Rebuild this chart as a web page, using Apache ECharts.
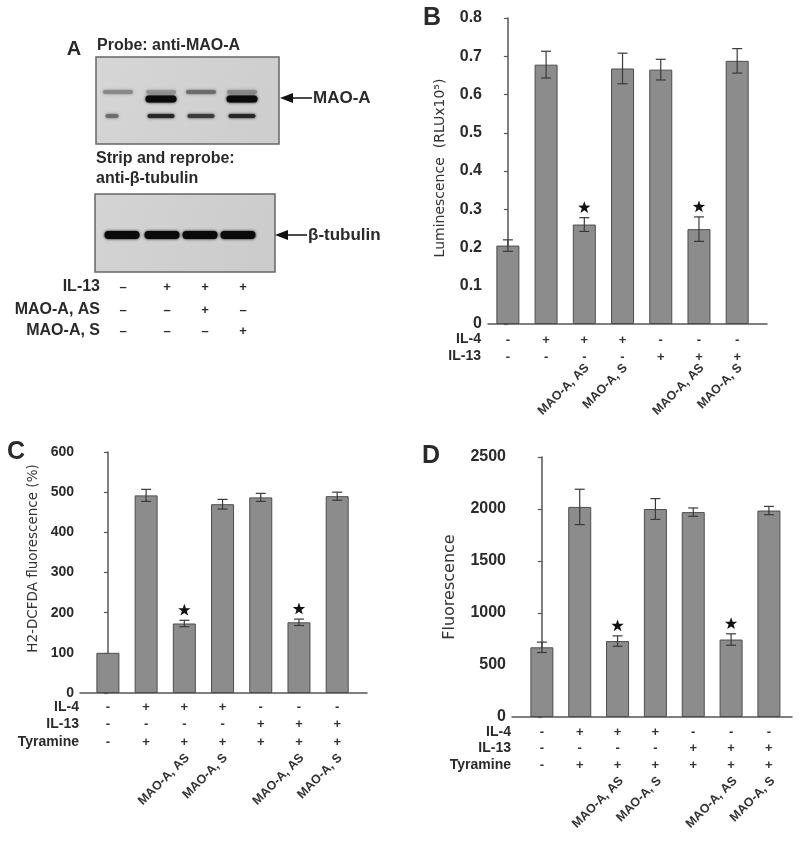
<!DOCTYPE html>
<html><head><meta charset="utf-8">
<script src="https://cdn.jsdelivr.net/npm/echarts@6/dist/echarts.min.js"></script>
<style>html,body{margin:0;padding:0;background:#fff}#c{width:800px;height:842px}</style>
</head><body><div id="c"></div>
<script>
// ---------- data ----------
const groups = [0, 1, 2, 3, 4, 5, 6];
const lumValues = [0.205, 0.678, 0.26, 0.668, 0.665, 0.248, 0.688];
const lumErrors = [0.015, 0.035, 0.018, 0.04, 0.027, 0.032, 0.032];
const dcfValues = [100, 492, 173, 470, 487, 176, 490];
const dcfErrors = [0, 15, 8, 12, 10, 8, 10];
const fluValues = [670, 2020, 730, 2000, 1970, 745, 1985];
const fluErrors = [50, 170, 50, 100, 40, 55, 40];
const starred = [0, 0, 1, 0, 0, 1, 0];
const il4Row = ['-', '+', '+', '+', '-', '-', '-'];
const il13Row = ['-', '-', '-', '-', '+', '+', '+'];
const tyramineRow = ['-', '+', '+', '+', '+', '+', '+'];
const maoLabels = ['', '', 'MAO-A, AS', 'MAO-A, S', '', 'MAO-A, AS', 'MAO-A, S'];
const blotIL13 = ['\u2013', '+', '+', '+'];
const blotAS = ['\u2013', '\u2013', '+', '\u2013'];
const blotS = ['\u2013', '\u2013', '\u2013', '+'];
const maoAFaint = [0.35, 0.3, 0.5, 0.35];
const maoAStrong = [0, 1, 0, 1];
const maoALower = [0.5, 0.85, 0.75, 0.85];
const tubulin = [1, 1, 1, 1];

// ---------- helpers ----------
const FONT = '"Liberation Sans", Arial, Helvetica, sans-serif';
const WIDE = '"DejaVu Sans", Verdana, sans-serif';
const TXT = '#2a2a2a';

function xAx(gi, min, max) {
  return { type: 'value', gridIndex: gi, min, max,
    axisLine: { show: true, onZero: false, lineStyle: { color: '#555', width: 1.5 } },
    axisTick: { show: false }, axisLabel: { show: false }, splitLine: { show: false } };
}
function yAx(gi, max, interval, name, nameSize, nameGap, labelSize, namePad) {
  return { type: 'value', gridIndex: gi, min: 0, max, interval,
    axisLine: { show: true, lineStyle: { color: '#555', width: 1.5 } },
    axisTick: { show: true, length: 4, lineStyle: { color: '#555', width: 1.2 } },
    axisLabel: { fontSize: labelSize, fontWeight: 'bold', color: TXT, fontFamily: FONT, margin: 6,
      formatter: v => String(+v.toFixed(2)) },
    splitLine: { show: false },
    name, nameLocation: 'middle', nameGap,
    nameTextStyle: { fontSize: nameSize, color: '#333', fontFamily: WIDE, padding: namePad || 0 } };
}
function barSeries(gi, vals) {
  return { type: 'bar', xAxisIndex: gi, yAxisIndex: gi, barWidth: 23,
    data: groups.map(i => [i, vals[i]]),
    itemStyle: { color: '#8c8c8c', borderColor: '#4d4d4d', borderWidth: 1 },
    silent: true, z: 2 };
}
function errSeries(gi, vals, errs) {
  return { type: 'custom', xAxisIndex: gi, yAxisIndex: gi, z: 3, silent: true,
    data: groups.map(i => [i, vals[i], errs[i]]),
    renderItem: function (params, api) {
      const i = api.value(0), v = api.value(1), e = api.value(2);
      if (!e) return { type: 'group', children: [] };
      const t = api.coord([i, v + e]), b = api.coord([i, v - e]);
      const c = 5, st = { stroke: '#3a3a3a', lineWidth: 1.2 };
      return { type: 'group', children: [
        { type: 'line', shape: { x1: t[0], y1: t[1], x2: b[0], y2: b[1] }, style: st },
        { type: 'line', shape: { x1: t[0] - c, y1: t[1], x2: t[0] + c, y2: t[1] }, style: st },
        { type: 'line', shape: { x1: b[0] - c, y1: b[1], x2: b[0] + c, y2: b[1] }, style: st }
      ] };
    } };
}
function starSeries(gi, vals, errs) {
  return { type: 'custom', xAxisIndex: gi, yAxisIndex: gi, z: 4, silent: true,
    data: groups.filter(i => starred[i]).map(i => [i, vals[i] + errs[i]]),
    renderItem: function (params, api) {
      const p = api.coord([api.value(0), api.value(1)]);
      const cx = p[0], cy = p[1] - 10, R = 6.5, r = 2.6, pts = [];
      for (let k = 0; k < 10; k++) {
        const a = -Math.PI / 2 + k * Math.PI / 5, rr = k % 2 ? r : R;
        pts.push([cx + rr * Math.cos(a), cy + rr * Math.sin(a)]);
      }
      return { type: 'polygon', shape: { points: pts }, style: { fill: '#111' } };
    } };
}
function annotSeries(gi, rows, offsets, rotDx, rotDy) {
  return { type: 'custom', xAxisIndex: gi, yAxisIndex: gi, z: 4, silent: true, clip: false,
    data: groups.map(i => [i, 0]),
    renderItem: function (params, api) {
      const i = api.value(0), p = api.coord([i, 0]);
      const ch = rows.map((row, r) => ({ type: 'text', x: p[0], y: p[1] + offsets[r],
        style: { text: row[i], align: 'center', verticalAlign: 'middle',
          font: 'bold 13px ' + FONT, fill: '#333' } }));
      if (maoLabels[i]) ch.push({ type: 'text', x: p[0] + rotDx, y: p[1] + rotDy, rotation: Math.PI / 4,
        style: { text: maoLabels[i], align: 'right', verticalAlign: 'middle',
          font: 'bold 12.5px ' + FONT, fill: '#333' } });
      return { type: 'group', children: ch };
    } };
}
function txt(x, y, text, size, align, weight) {
  return { type: 'text', x, y, style: { text, font: (weight || 'bold') + ' ' + size + 'px ' + FONT,
    fill: TXT, align: align || 'left', verticalAlign: 'middle' } };
}
function gray(intensity) {
  const g = Math.round(205 - intensity * 195);
  return 'rgb(' + g + ',' + g + ',' + g + ')';
}
function band(cx, cy, w, h, intensity) {
  const col = gray(intensity);
  return { type: 'rect', shape: { x: cx - w / 2, y: cy - h / 2, width: w, height: h, r: h / 2 },
    style: { fill: col, shadowBlur: 3, shadowColor: col } };
}
function arrow(tipX, y, len) {
  return [
    { type: 'polygon', shape: { points: [[tipX, y], [tipX + 13, y - 5], [tipX + 13, y + 5]] }, style: { fill: '#111' } },
    { type: 'line', shape: { x1: tipX + 12, y1: y, x2: tipX + len, y2: y }, style: { stroke: '#111', lineWidth: 1.5 } }
  ];
}

// ---------- panel A (blot) ----------
const laneX1 = [118, 161, 201, 242];
const laneX2 = [122, 162, 200, 238];
const signX = [123, 167, 205, 243];
const blot = [];
blot.push({ type: 'rect', shape: { x: 96, y: 57, width: 183, height: 87 },
  style: { fill: { type: 'linear', x: 0, y: 0, x2: 1, y2: 1, colorStops: [{ offset: 0, color: '#d6d6d6' }, { offset: 1, color: '#cdcdcd' }] },
    stroke: '#666', lineWidth: 1.5 } });
laneX1.forEach((x, k) => {
  if (maoAFaint[k]) blot.push(band(x, 92, 30, 4, maoAFaint[k]));
  if (maoAStrong[k]) blot.push(band(x, 99, 31, 7, maoAStrong[k]));
  blot.push(band(x + (k === 0 ? -6 : 0), 116, k === 0 ? 13 : 27, 4, maoALower[k]));
});
blot.push({ type: 'rect', shape: { x: 95, y: 194, width: 180, height: 78 },
  style: { fill: { type: 'linear', x: 0, y: 0, x2: 1, y2: 1, colorStops: [{ offset: 0, color: '#d4d4d4' }, { offset: 1, color: '#cbcbcb' }] },
    stroke: '#666', lineWidth: 1.5 } });
laneX2.forEach((x, k) => blot.push(band(x, 235, 35, 8, tubulin[k])));
blot.push(...arrow(280, 98, 32), ...arrow(275, 235, 32));
blot.push(
  txt(74, 49, 'A', 20, 'center'),
  txt(97, 46, 'Probe: anti-MAO-A', 16),
  txt(313, 98, 'MAO-A', 17),
  txt(96, 159, 'Strip and reprobe:', 16),
  txt(96, 179, 'anti-\u03b2-tubulin', 16),
  txt(308, 235, '\u03b2-tubulin', 17),
  txt(100, 287, 'IL-13', 16, 'right'),
  txt(100, 310, 'MAO-A, AS', 16, 'right'),
  txt(100, 331, 'MAO-A, S', 16, 'right')
);
signX.forEach((x, k) => {
  blot.push(txt(x, 287, blotIL13[k], 13, 'center'));
  blot.push(txt(x, 310, blotAS[k], 13, 'center'));
  blot.push(txt(x, 331, blotS[k], 13, 'center'));
});
// panel letters and row labels
blot.push(
  txt(432, 18, 'B', 25, 'center'),
  txt(16, 452, 'C', 25, 'center'),
  txt(431, 456, 'D', 25, 'center'),
  txt(481, 339, 'IL-4', 14, 'right'), txt(481, 356, 'IL-13', 14, 'right'),
  txt(79, 707, 'IL-4', 14, 'right'), txt(79, 724, 'IL-13', 14, 'right'), txt(79, 742, 'Tyramine', 14, 'right'),
  txt(511, 732, 'IL-4', 14, 'right'), txt(511, 748, 'IL-13', 14, 'right'), txt(511, 765, 'Tyramine', 14, 'right')
);

// ---------- chart ----------
const chart = echarts.init(document.getElementById('c'), null, { renderer: 'canvas' });
chart.setOption({
  backgroundColor: '#fff',
  animation: false,
  grid: [
    { left: 488, top: 18, width: 279, height: 306 },
    { left: 80, top: 452, width: 287, height: 241 },
    { left: 512, top: 457, width: 280, height: 260 }
  ],
  xAxis: [xAx(0, -0.52, 6.78), xAx(1, -0.73, 6.78), xAx(2, -0.79, 6.61)],
  yAxis: [
    yAx(0, 0.8, 0.1, 'Luminescence  (RLUx10\u2075)', 14, 41, 16, [0, 0, 0, 6]),
    yAx(1, 600, 100, 'H2-DCFDA fluorescence (%)', 13.5, 40, 14, [0, 0, 0, 28]),
    yAx(2, 2500, 500, 'Fluorescence', 16, 54, 16)
  ],
  series: [
    barSeries(0, lumValues), errSeries(0, lumValues, lumErrors), starSeries(0, lumValues, lumErrors),
    annotSeries(0, [il4Row, il13Row], [16, 33], 3, 42),
    barSeries(1, dcfValues), errSeries(1, dcfValues, dcfErrors), starSeries(1, dcfValues, dcfErrors),
    annotSeries(1, [il4Row, il13Row, tyramineRow], [14, 31, 49], 3, 63),
    barSeries(2, fluValues), errSeries(2, fluValues, fluErrors), starSeries(2, fluValues, fluErrors),
    annotSeries(2, [il4Row, il13Row, tyramineRow], [15, 31, 48], 4, 62)
  ],
  graphic: { elements: blot }
});
</script>
</body></html>
